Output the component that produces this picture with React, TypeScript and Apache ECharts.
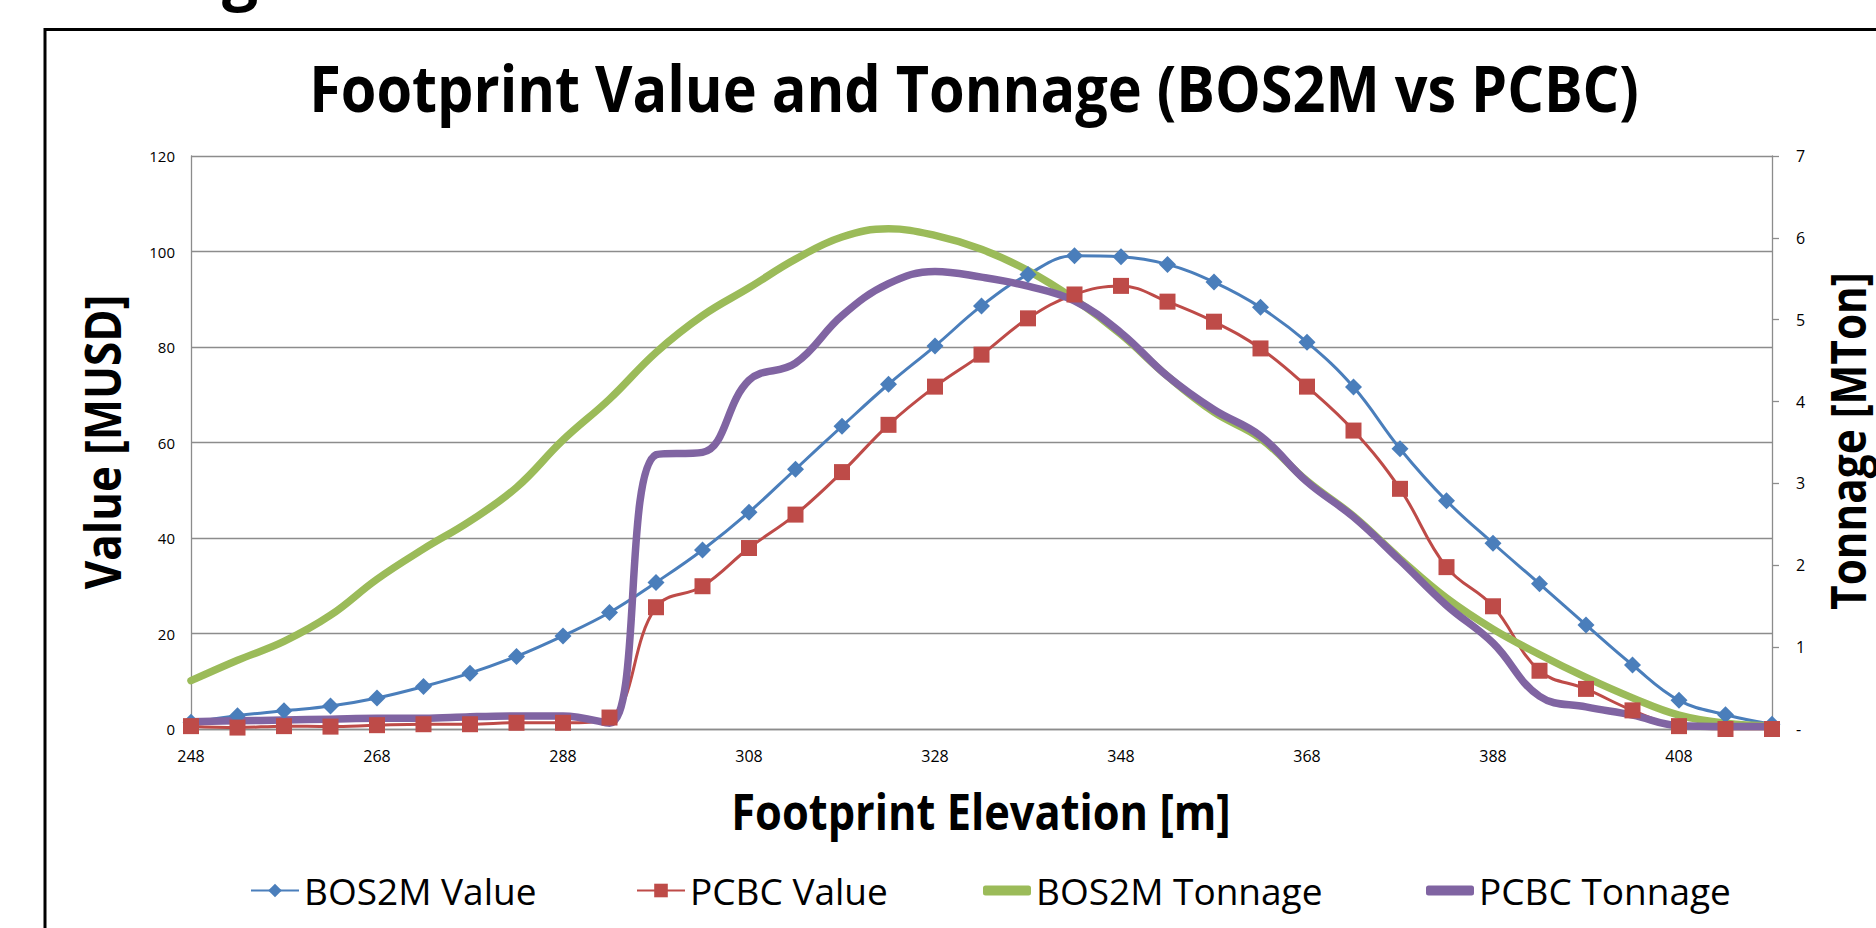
import React, { useEffect, useRef } from 'react';
import * as echarts from 'echarts';

const elevations = ['248','253','258','263','268','273','278','283','288','293','298','303','308','313','318','323','328','333','338','343','348','353','358','363','368','373','378','383','388','393','398','403','408','413','418'];

const bos2mValue = [1.4,2.8,3.8,4.8,6.5,8.9,11.7,15.2,19.5,24.4,30.7,37.5,45.4,54.4,63.4,72.2,80.2,88.6,95.2,99.1,98.9,97.3,93.6,88.3,81.0,71.6,58.7,47.8,38.9,30.4,21.8,13.4,6.0,3.0,1.0];
const pcbcValue = [0.6,0.3,0.6,0.5,0.8,1.0,1.0,1.3,1.3,2.4,25.5,29.9,37.9,44.9,53.8,63.7,71.7,78.4,86.0,91.0,92.8,89.5,85.3,79.7,71.7,62.5,50.3,33.9,25.7,12.2,8.4,3.9,0.6,0,0];
const bos2mTonnage = [0.59,0.84,1.07,1.39,1.83,2.2,2.54,2.95,3.53,4.03,4.6,5.05,5.39,5.74,6.01,6.11,6.03,5.86,5.60,5.25,4.82,4.31,3.87,3.55,3.03,2.60,2.08,1.60,1.22,0.91,0.63,0.38,0.17,0.07,0.04];
const pcbcTonnage = [0.09,0.10,0.11,0.12,0.13,0.13,0.15,0.16,0.16,0.07,3.35,3.38,4.26,4.47,5.05,5.44,5.59,5.52,5.41,5.23,4.84,4.31,3.90,3.58,3.02,2.59,2.06,1.51,1.05,0.40,0.27,0.17,0.04,0.03,0.03];

const valueTicks = { min: 0, max: 120, interval: 20 };
const tonnageTicks = { min: 0, max: 7, interval: 1 };

const FONT = "'Open Sans', sans-serif";
const GRID = '#8c8c8c';

export default function App() {
  const ref = useRef<HTMLDivElement>(null);
  useEffect(() => {
    if (!ref.current) return;
    const chart = echarts.init(ref.current, null, { renderer: 'svg' });
    const legendBase = {
      orient: 'horizontal',
      top: 872,
      itemWidth: 48,
      itemHeight: 17,
      textStyle: { fontSize: 37, fontFamily: FONT, color: '#000' },
      padding: 0,
    };
    chart.setOption({
      animation: false,
      backgroundColor: '#fff',
      grid: { left: 191, right: 104, top: 156, bottom: 199, containLabel: false },
      graphic: [
        { type: 'rect', shape: { x: 45, y: 29.5, width: 2000, height: 1200 }, style: { fill: 'none', stroke: '#000', lineWidth: 3 }, silent: true },
        { type: 'text', x: 222, y: -28, style: { text: 'g', font: `bold 64px ${FONT}`, fill: '#000', verticalAlign: 'middle' } },
        { type: 'text', x: 974, y: 87, scaleX: 0.9, style: { text: 'Footprint Value and Tonnage (BOS2M vs PCBC)', font: `bold 64px ${FONT}`, fill: '#000', align: 'center', verticalAlign: 'middle' } },
        { type: 'text', x: 102, y: 442, rotation: Math.PI / 2, scaleX: 0.876, style: { text: 'Value [MUSD]', font: `bold 50px ${FONT}`, fill: '#000', align: 'center', verticalAlign: 'middle' } },
        { type: 'text', x: 1847, y: 441, rotation: Math.PI / 2, scaleX: 0.862, style: { text: 'Tonnage [MTon]', font: `bold 49px ${FONT}`, fill: '#000', align: 'center', verticalAlign: 'middle' } },
        { type: 'text', x: 981, y: 811, scaleX: 0.868, style: { text: 'Footprint Elevation [m]', font: `bold 50px ${FONT}`, fill: '#000', align: 'center', verticalAlign: 'middle' } },
      ],
      legend: [
        { ...legendBase, left: 250, data: ['BOS2M Value'] },
        { ...legendBase, left: 636, data: ['PCBC Value'] },
        { ...legendBase, left: 983, itemHeight: 10, data: [{ name: 'BOS2M Tonnage', icon: 'roundRect' }] },
        { ...legendBase, left: 1426, itemHeight: 10, data: [{ name: 'PCBC Tonnage', icon: 'roundRect' }] },
      ],
      xAxis: {
        type: 'category',
        data: elevations,
        boundaryGap: false,
        axisLine: { show: true, lineStyle: { color: GRID, width: 1.3 } },
        axisTick: { show: false },
        axisLabel: { interval: 3, fontSize: 16, fontFamily: FONT, color: '#000', margin: 19 },
        splitLine: { show: false },
      },
      yAxis: [
        {
          type: 'value', ...valueTicks,
          axisLine: { show: true, lineStyle: { color: GRID, width: 1.3 } },
          axisTick: { show: false },
          axisLabel: { fontSize: 15, fontFamily: FONT, color: '#000', margin: 16 },
          splitLine: { show: true, lineStyle: { color: GRID, width: 1.3 } },
        },
        {
          type: 'value', position: 'right', ...tonnageTicks,
          axisLine: { show: true, lineStyle: { color: GRID, width: 1.3 } },
          axisTick: { show: true, inside: false, length: 7, lineStyle: { color: GRID, width: 1.3 } },
          axisLabel: { fontSize: 16, fontFamily: FONT, color: '#000', margin: 24, formatter: (v: number) => (v === 0 ? '-' : String(v)) },
          splitLine: { show: false },
        },
      ],
      series: [
        { name: 'BOS2M Value', type: 'line', yAxisIndex: 0, data: bos2mValue, smooth: 0.4, symbol: 'diamond', symbolSize: 17, color: '#4A7EBB', lineStyle: { width: 3, color: '#4A7EBB' }, itemStyle: { color: '#4A7EBB' } },
        { name: 'PCBC Value', type: 'line', yAxisIndex: 0, data: pcbcValue, smooth: 0.4, symbol: 'rect', symbolSize: 16, color: '#BE4B48', lineStyle: { width: 3, color: '#BE4B48' }, itemStyle: { color: '#BE4B48' } },
        { name: 'BOS2M Tonnage', type: 'line', yAxisIndex: 1, data: bos2mTonnage, smooth: 0.4, symbol: 'none', showSymbol: false, color: '#9BBB59', lineStyle: { width: 7.5, color: '#9BBB59', cap: 'round' } },
        { name: 'PCBC Tonnage', type: 'line', yAxisIndex: 1, data: pcbcTonnage, smooth: 0.4, symbol: 'none', showSymbol: false, color: '#8064A2', lineStyle: { width: 7.5, color: '#8064A2', cap: 'round' } },
      ],
    });
    return () => chart.dispose();
  }, []);
  return <div ref={ref} style={{ position: 'fixed', left: 0, top: 0, width: 1876, height: 928, background: '#fff' }} />;
}
